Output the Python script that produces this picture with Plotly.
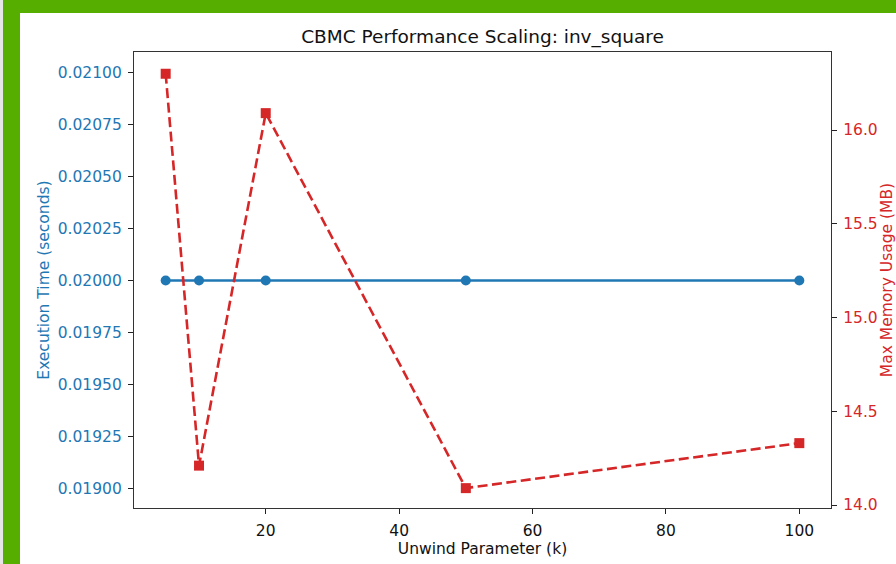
import plotly.graph_objects as go

unwind_k = [5, 10, 20, 50, 100]
exec_time_s = [0.02, 0.02, 0.02, 0.02, 0.02]
max_memory_mb = [16.30, 14.21, 16.09, 14.09, 14.33]

left_ticks = [0.01900, 0.01925, 0.01950, 0.01975, 0.02000, 0.02025, 0.02050, 0.02075, 0.02100]
right_ticks = [14.0, 14.5, 15.0, 15.5, 16.0]
x_ticks = [20, 40, 60, 80, 100]

BLUE = "#1f77b4"
RED = "#d62728"
FONT = "DejaVu Sans"
FS = 15.5

W, H = 896, 564
L, R, T, B = 134, 831, 52, 508

def px(x):
    return (x - L) / (R - L)

def py(y):
    return (B - y) / (B - T)

fig = go.Figure()
fig.add_trace(go.Scatter(
    x=unwind_k, y=exec_time_s, mode="lines+markers",
    line=dict(color=BLUE, width=2.6),
    marker=dict(symbol="circle", size=10, color=BLUE),
    yaxis="y", showlegend=False))
fig.add_trace(go.Scatter(
    x=unwind_k, y=max_memory_mb, mode="lines+markers",
    line=dict(color=RED, width=2.6, dash="10px,4.5px"),
    marker=dict(symbol="square", size=10, color=RED),
    yaxis="y2", showlegend=False))

axis_common = dict(showgrid=False, zeroline=False, ticks="outside", ticklen=5,
                   tickwidth=1.2, tickcolor="#222", showline=True,
                   linecolor="#333", linewidth=1.2, ticklabelstandoff=3,
                   automargin=False)

fig.update_layout(
    width=W, height=H,
    margin=dict(l=L, r=W - R, t=T, b=H - B, autoexpand=False),
    paper_bgcolor="white", plot_bgcolor="white",
    font=dict(family=FONT, size=FS, color="#000"),
    title=dict(text="CBMC Performance Scaling: inv_square", x=(L + R) / 2 / W,
               xanchor="center", y=1 - 37 / H, yanchor="middle",
               font=dict(size=18.5, color="#111")),
    xaxis=dict(range=[0.25, 104.75], tickvals=x_ticks, mirror=True,
               title=dict(text="Unwind Parameter (k)", standoff=3,
                          font=dict(size=FS, color="#111")),
               tickfont=dict(size=FS, color="#111"), **axis_common),
    yaxis=dict(range=[0.018904, 0.021101], tickvals=left_ticks, tickformat=".5f",
               title=dict(text="Execution Time (seconds)", standoff=4,
                          font=dict(size=FS, color=BLUE)),
               tickfont=dict(size=FS, color=BLUE), **axis_common),
    yaxis2=dict(range=[13.984, 16.416], tickvals=right_ticks, tickformat=".1f",
                overlaying="y", side="right", anchor="x",
                title=dict(text="Max Memory Usage (MB)", standoff=6,
                           font=dict(size=FS, color=RED)),
                tickfont=dict(size=FS, color=RED), **axis_common),
    shapes=[
        dict(type="rect", xref="paper", yref="paper", layer="above",
             x0=px(0), x1=px(3), y0=py(H), y1=py(0),
             fillcolor="#e6e6e6", line=dict(width=0)),
        dict(type="rect", xref="paper", yref="paper", layer="above",
             x0=px(3), x1=px(20), y0=py(H), y1=py(0),
             fillcolor="#56ae00", line=dict(width=0)),
        dict(type="rect", xref="paper", yref="paper", layer="above",
             x0=px(3), x1=px(W), y0=py(13), y1=py(0),
             fillcolor="#56ae00", line=dict(width=0)),
    ],
)

fig.write_html("out.html")
